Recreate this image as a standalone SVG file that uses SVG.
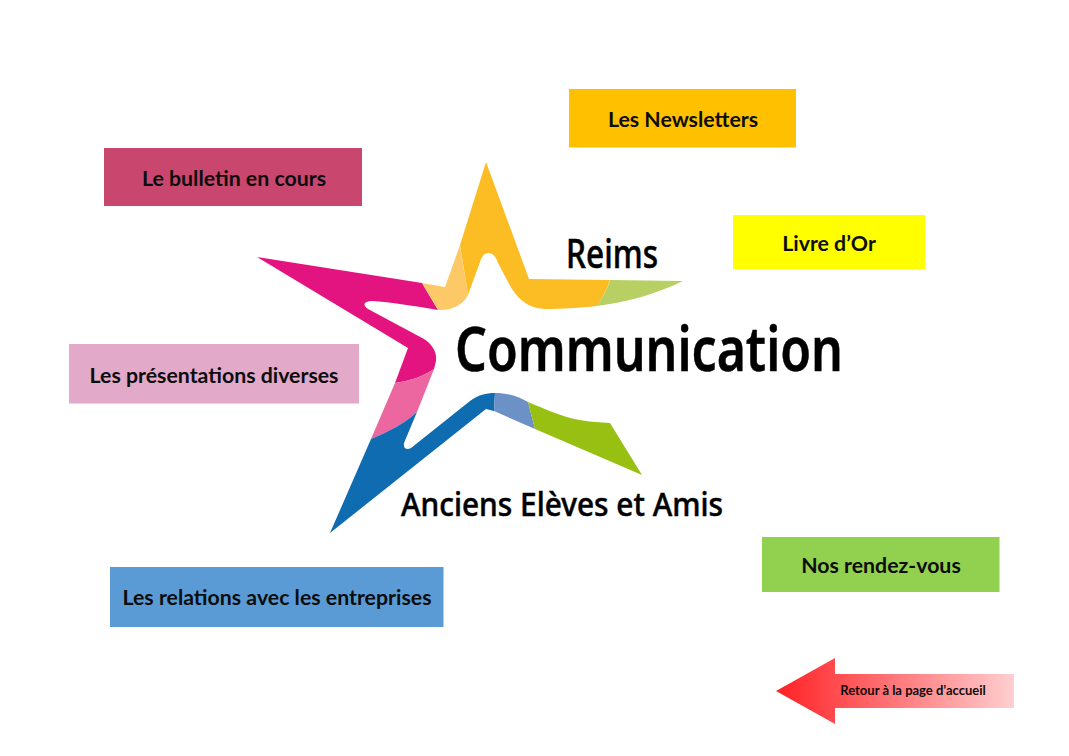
<svg xmlns="http://www.w3.org/2000/svg" width="1069" height="756" viewBox="0 0 1069 756">
<style>
.lbl{font-family:"Lato","Open Sans",sans-serif;font-weight:700;font-size:21.3px;fill:#0d0d0d;text-anchor:middle}
.logo{font-family:"Noto Sans","Open Sans",sans-serif;font-weight:500;fill:#000;stroke:#000;stroke-width:.5}
</style>
<defs>
<linearGradient id="arrowGrad" x1="0" y1="0" x2="1" y2="0">
<stop offset="0" stop-color="#ff2024"/><stop offset="1" stop-color="#ffcfd0"/>
</linearGradient>
</defs>
<rect width="1069" height="756" fill="#fff"/>
<g id="logo-star">
<path fill="#e3147f" d="M257 257L422 283L438 310C415 306 390 302 372 301C364 301 362 305 368 309L424 339C433 345 437 353 436 361L434 369C424 376 410 381 395 383L408 348Z"/>
<path fill="#ec669f" d="M395 383C410 381 424 376 434 369L417 412C405 423 390 431 371 439Z"/>
<path fill="#0f6cb0" d="M371 439C390 431 405 423 417 412L404 443C403 449 407 450 411 448L470 401C478 395 486 393 495 393L494 411L486 409L330 533Z"/>
<path fill="#6b91c7" d="M495 393C507 393 518 396 528 402L535 429L494 411Z"/>
<path fill="#98c013" d="M528 402C545 409 562 417 580 420C590 422 600 422 610 423L642 475L535 429Z"/>
<path fill="#fbbc24" d="M486 162L529 279L610 280C607 290 602 298 597 306C580 308 560 309 548 309C527 309 516 298 507 280L498 263C494 250 483 250 480 262L468 295L460 245Z"/>
<path fill="#fdc966" d="M422 283L445 287L460 245L468 295C464 304 452 311 438 310Z"/>
<path fill="#b8cf63" d="M610 280L683 281C656 294 628 302 597 306C602 298 607 290 610 281Z"/>
<text class="logo" x="566" y="268" font-size="39" textLength="92" lengthAdjust="spacingAndGlyphs">Reims</text>
<text class="logo" style="font-weight:600" x="455" y="371" font-size="61" textLength="388" lengthAdjust="spacingAndGlyphs">Communication</text>
<text class="logo" x="401" y="516" font-size="33" textLength="322" lengthAdjust="spacingAndGlyphs">Anciens Elèves et Amis</text>
</g>
<g id="node-newsletters"><rect x="569" y="89" width="227" height="58.5" fill="#ffc000"/><text class="lbl" x="683" y="127">Les Newsletters</text></g>
<g id="node-bulletin"><rect x="104" y="148" width="258" height="58" fill="#c9476f"/><text class="lbl" x="234" y="186">Le bulletin en cours</text></g>
<g id="node-livre"><rect x="733" y="215" width="192" height="54" fill="#ffff00"/><text class="lbl" x="829" y="251">Livre d’Or</text></g>
<g id="node-presentations"><rect x="69" y="344" width="290" height="59.5" fill="#e3a9c9"/><text class="lbl" x="214" y="383">Les présentations diverses</text></g>
<g id="node-relations"><rect x="110" y="567" width="333.5" height="60" fill="#5b9bd5"/><text class="lbl" x="277" y="605">Les relations avec les entreprises</text></g>
<g id="node-rendezvous"><rect x="762" y="537" width="237.5" height="55" fill="#92d050"/><text class="lbl" x="881" y="573">Nos rendez-vous</text></g>
<g id="node-retour"><path fill="url(#arrowGrad)" d="M776 691L835 658V674H1014V708H835V724Z"/><text class="lbl" x="913" y="695" style="font-size:13px">Retour à la page d’accueil</text></g>
<g id="connectors"/>
</svg>
